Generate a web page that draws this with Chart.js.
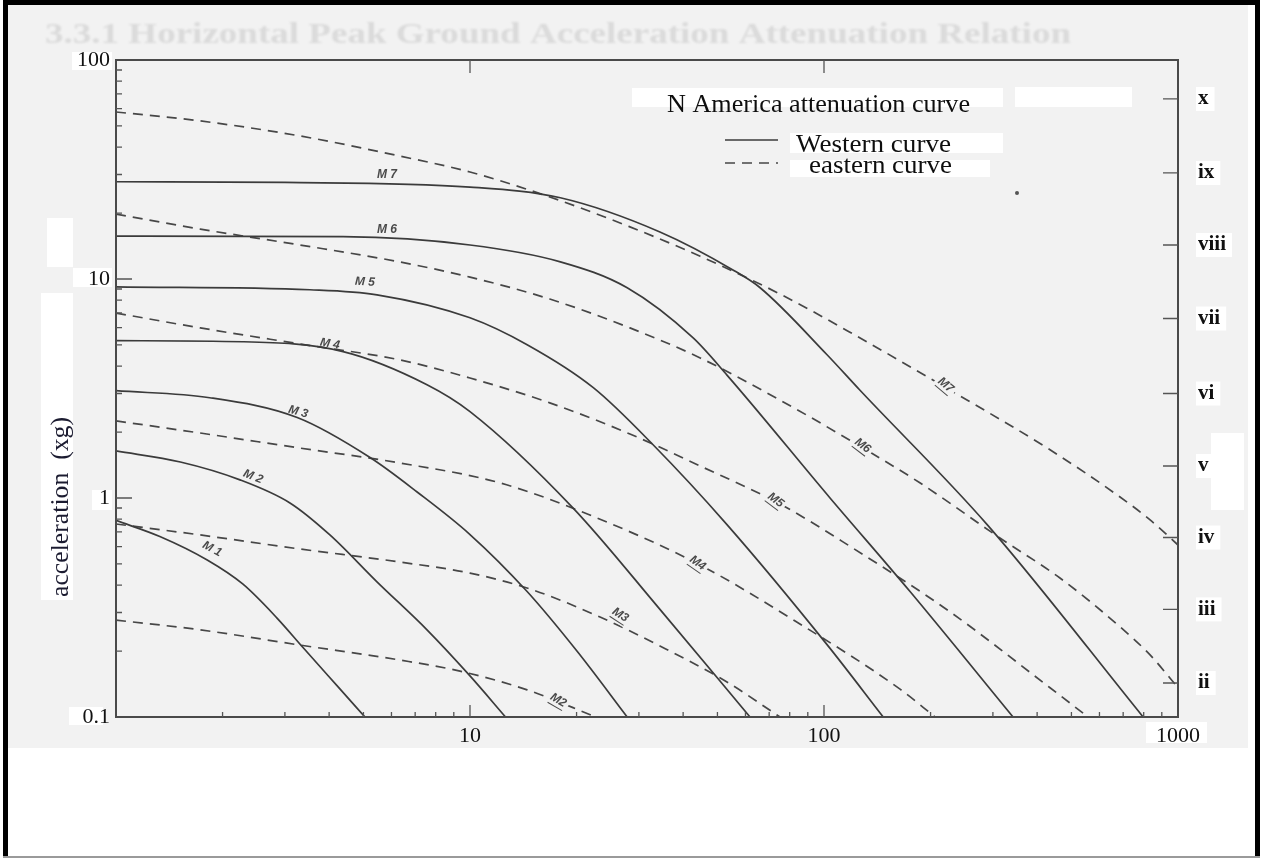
<!DOCTYPE html>
<html>
<head>
<meta charset="utf-8">
<title>N America attenuation curve</title>
<script src="https://cdn.jsdelivr.net/npm/chart.js@4.4.1/dist/chart.umd.min.js"></script>
<style>
  html, body { margin: 0; padding: 0; background: #ffffff; }
  canvas { display: block; }
</style>
</head>
<body>
<canvas id="chart" width="1262" height="859"></canvas>
<script>
// Peak ground acceleration (%g) against distance (km), one curve per magnitude.

// Western North America (solid curves)
const westM1Dist = [1, 1.33, 1.81, 2.28, 2.85, 3.38, 4.21, 5.05];
const westM1Acc  = [0.79, 0.667, 0.521, 0.405, 0.283, 0.207, 0.139, 0.1];
const westM2Dist = [1, 1.52, 2.24, 3.10, 4.02, 5.46, 7.56, 10, 12.6];
const westM2Acc  = [1.64, 1.46, 1.21, 0.949, 0.678, 0.414, 0.250, 0.154, 0.1];
const westM3Dist = [1, 1.84, 3.25, 5.22, 7.09, 10, 14.5, 20.1, 27.8];
const westM3Acc  = [3.09, 2.87, 2.33, 1.53, 1.065, 0.681, 0.374, 0.199, 0.1];
const westM4Dist = [1, 2.28, 4.38, 7.56, 10, 19.5, 34.4, 61.8];
const westM4Acc  = [5.23, 5.17, 4.66, 3.29, 2.48, 0.904, 0.31, 0.1];
const westM5Dist = [1, 3.53, 5.46, 10, 14.5, 22.3, 32.9, 53.2, 102, 147];
const westM5Acc  = [9.21, 8.93, 8.47, 6.65, 5.01, 3.19, 1.75, 0.756, 0.214, 0.1];
const westM6Dist = [1, 4.38, 10, 18, 27.8, 42.7, 53.2, 104, 175, 342];
const westM6Acc  = [15.7, 15.6, 14.3, 11.98, 9.12, 5.38, 3.64, 1.0, 0.374, 0.1];
const westM7Dist = [1, 3.0, 10, 18, 34.4, 55.3, 66, 102, 126, 289, 797];
const westM7Acc  = [27.8, 27.6, 26.3, 23.5, 16.4, 11.0, 9.12, 4.51, 3.12, 0.756, 0.1];

// Eastern North America (dashed curves)
const eastM2Dist = [1, 1.73, 3.31, 6.34, 9.37, 14.5, 22.7];
const eastM2Acc  = [0.277, 0.250, 0.213, 0.182, 0.162, 0.133, 0.1];
const eastM3Dist = [1, 1.73, 3.31, 6.34, 10, 14.8, 23.3, 34.4, 53.2, 75.1];
const eastM3Acc  = [0.761, 0.678, 0.585, 0.510, 0.454, 0.384, 0.286, 0.211, 0.1445, 0.1];
const eastM4Dist = [1, 1.73, 3.31, 6.34, 12.2, 23.3, 44.7, 85.5, 164, 206];
const eastM4Acc  = [2.25, 1.98, 1.69, 1.445, 1.17, 0.80, 0.494, 0.266, 0.134, 0.1];
const eastM5Dist = [1, 1.73, 3.31, 6.34, 10, 16.8, 28.3, 44.7, 75.1, 118, 227, 435, 557];
const eastM5Acc  = [6.99, 5.98, 5.05, 4.27, 3.53, 2.72, 1.96, 1.40, 0.939, 0.604, 0.302, 0.136, 0.1];
const eastM6Dist = [1, 1.73, 3.31, 6.34, 10, 16.8, 28.3, 44.7, 75.1, 118, 187, 314, 464, 686, 834, 1000];
const eastM6Acc  = [19.8, 16.9, 14.3, 11.96, 10.2, 8.10, 5.98, 4.36, 2.80, 1.84, 1.17, 0.657, 0.431, 0.258, 0.192, 0.136];
const eastM7Dist = [1, 1.73, 3.31, 6.34, 10, 16.8, 28.3, 44.7, 75.1, 118, 227, 435, 686, 834, 1000];
const eastM7Acc  = [57.9, 52.7, 45.0, 36.4, 30.8, 23.7, 17.3, 12.7, 8.54, 5.73, 3.11, 1.66, 1.01, 0.794, 0.61];

// Magnitude names and where each curve is tagged
const westNames = ['M 1', 'M 2', 'M 3', 'M 4', 'M 5', 'M 6', 'M 7'];
const westLabelDist = [1.87, 2.44, 3.27, 4.02, 5.05, 5.83, 5.83];
const westLabelAcc  = [0.585, 1.25, 2.47, 5.05, 9.7, 16.8, 29.8];
const eastNames = ['M2', 'M3', 'M4', 'M5', 'M6', 'M7'];
const eastLabelDist = [17.7, 26.5, 43.8, 72.7, 128, 219.8];
const eastLabelAcc  = [0.118, 0.29, 0.50, 0.97, 1.72, 3.25];

// Axis tick labels
const distTickLabels = ['10', '100', '1000'];
const accTickLabels = ['0.1', '1', '10', '100'];

// Modified Mercalli intensity marks on the right-hand axis
const mmiValues = [66.4, 30.5, 14.3, 6.6, 3.0, 1.4, 0.66, 0.31, 0.143];
const mmiLabels = ['x', 'ix', 'viii', 'vii', 'vi', 'v', 'iv', 'iii', 'ii'];

// ---------------------------------------------------------------------
const SERIF = "'Liberation Serif', 'Times New Roman', serif";
const PAPER = '#f2f2f2';
const INK = '#3b3b3b';

function pairs(xs, ys) { return xs.map((x, i) => ({ x: x, y: ys[i] })); }

const westSets = [
  [westM1Dist, westM1Acc], [westM2Dist, westM2Acc], [westM3Dist, westM3Acc],
  [westM4Dist, westM4Acc], [westM5Dist, westM5Acc], [westM6Dist, westM6Acc],
  [westM7Dist, westM7Acc]
];
const eastSets = [
  [eastM2Dist, eastM2Acc], [eastM3Dist, eastM3Acc], [eastM4Dist, eastM4Acc],
  [eastM5Dist, eastM5Acc], [eastM6Dist, eastM6Acc], [eastM7Dist, eastM7Acc]
];

const datasets = [];
westSets.forEach((s, i) => datasets.push({
  label: 'Western curve ' + westNames[i],
  data: pairs(s[0], s[1]),
  borderColor: INK, borderWidth: 1.7, pointRadius: 0,
  cubicInterpolationMode: 'monotone', fill: false
}));
eastSets.forEach((s, i) => datasets.push({
  label: 'eastern curve ' + eastNames[i],
  data: pairs(s[0], s[1]),
  borderColor: '#474747', borderWidth: 1.7, borderDash: [10, 7], pointRadius: 0,
  cubicInterpolationMode: 'monotone', fill: false
}));

function isDecade(v) {
  const l = Math.log10(v);
  return Math.abs(l - Math.round(l)) < 1e-6;
}

function fitText(ctx, text, x, y, w, font) {
  ctx.save();
  ctx.font = font;
  ctx.textAlign = 'left';
  ctx.textBaseline = 'alphabetic';
  const m = ctx.measureText(text).width;
  ctx.translate(x, y);
  ctx.scale(w / m, 1);
  ctx.fillText(text, 0, 0);
  ctx.restore();
}

// Paper, bleed-through heading and masking patches behind the labels
const paperPlugin = {
  id: 'paper',
  beforeDraw(chart) {
    const ctx = chart.ctx;
    ctx.save();
    ctx.fillStyle = '#ffffff';
    ctx.fillRect(0, 0, chart.width, chart.height);
    ctx.fillStyle = PAPER;
    ctx.fillRect(8, 5, 1240, 743);

    ctx.filter = 'blur(1.2px)';
    ctx.fillStyle = 'rgba(90,90,90,0.15)';
    fitText(ctx, '3.3.1 Horizontal Peak Ground Acceleration Attenuation Relation', 45, 43, 1026, 'bold 29px ' + SERIF);
    ctx.filter = 'none';

    ctx.fillStyle = '#ffffff';
    const patches = [
      [41, 293, 32, 307], [47, 218, 26, 49],
      [72, 52, 40, 18], [73, 268, 39, 19], [92, 490, 20, 20], [69, 707, 34, 18],
      [632, 88, 371, 19], [1015, 87, 117, 20],
      [790, 133, 213, 20], [790, 160, 200, 17],
      [1146, 722, 61, 21], [1211, 433, 33, 77]
    ];
    patches.forEach(p => ctx.fillRect(p[0], p[1], p[2], p[3]));

    const y2 = chart.scales.y2;
    ctx.font = 'bold 21px ' + SERIF;
    mmiValues.forEach((v, i) => {
      const py = y2.getPixelForValue(v);
      const w = ctx.measureText(mmiLabels[i]).width;
      ctx.fillRect(1196, py - 12, w + 8, 24);
    });
    ctx.restore();
  }
};

// Frame, inward tick marks, curve tags, legend and axis title
const overlayPlugin = {
  id: 'overlay',
  afterDatasetsDraw(chart) {
    const ctx = chart.ctx;
    const xs = chart.scales.x, ys = chart.scales.y, y2 = chart.scales.y2;
    const a = chart.chartArea;
    ctx.save();

    // frame
    ctx.strokeStyle = '#4a4a4a';
    ctx.lineWidth = 2;
    ctx.strokeRect(a.left, a.top, a.right - a.left, a.bottom - a.top);

    // inward ticks
    ctx.lineWidth = 1.3;
    ctx.strokeStyle = '#555555';
    ctx.beginPath();
    [0.1, 1, 10].forEach(d => {
      for (let k = 1; k <= 9; k++) {
        const v = k * d;
        if (v <= 0.1 + 1e-9) continue;
        const py = ys.getPixelForValue(v);
        ctx.moveTo(a.left, py);
        ctx.lineTo(a.left + (k === 1 ? 16 : 6), py);
      }
    });
    [1, 10, 100].forEach(d => {
      for (let k = 1; k <= 9; k++) {
        const v = k * d;
        if (v <= 1 + 1e-9) continue;
        const px = xs.getPixelForValue(v);
        ctx.moveTo(px, a.bottom);
        ctx.lineTo(px, a.bottom - (k === 1 ? 12 : 5));
      }
    });
    [10, 100].forEach(v => {
      const px = xs.getPixelForValue(v);
      ctx.moveTo(px, a.top);
      ctx.lineTo(px, a.top + 13);
    });
    mmiValues.forEach(v => {
      const py = y2.getPixelForValue(v);
      ctx.moveTo(a.right, py);
      ctx.lineTo(a.right - 15, py);
    });
    ctx.stroke();

    // magnitude tags on the curves
    const westAngles = [28, 22, 15, 10, 3, 0, 0];
    ctx.fillStyle = '#4a4a4a';
    ctx.font = 'italic bold 12px "Liberation Sans", sans-serif';
    ctx.textAlign = 'center';
    ctx.textBaseline = 'middle';
    westNames.forEach((n, i) => {
      const px = xs.getPixelForValue(westLabelDist[i]);
      const py = ys.getPixelForValue(westLabelAcc[i]);
      ctx.save();
      ctx.translate(px, py);
      ctx.rotate(westAngles[i] * Math.PI / 180);
      ctx.fillText(n, 0, 0);
      ctx.restore();
    });
    const eastAngles = [30, 33, 35, 37, 37, 40];
    eastNames.forEach((n, i) => {
      const px = xs.getPixelForValue(eastLabelDist[i]);
      const py = ys.getPixelForValue(eastLabelAcc[i]);
      ctx.save();
      ctx.translate(px, py);
      ctx.rotate(eastAngles[i] * Math.PI / 180);
      const w = ctx.measureText(n).width;
      ctx.fillStyle = PAPER;
      ctx.fillRect(-w / 2 - 3, -8, w + 6, 16);
      ctx.fillStyle = '#4a4a4a';
      ctx.fillText(n, 0, -1);
      ctx.strokeStyle = '#4a4a4a';
      ctx.lineWidth = 1;
      ctx.beginPath();
      ctx.moveTo(-w / 2, 6);
      ctx.lineTo(w / 2, 6);
      ctx.stroke();
      ctx.restore();
    });

    // legend
    ctx.fillStyle = '#0e0e0e';
    fitText(ctx, 'N America attenuation curve', 667, 112, 303, '26px ' + SERIF);
    const west = chart.data.datasets[0];
    const east = chart.data.datasets[westSets.length];
    ctx.lineWidth = west.borderWidth;
    ctx.strokeStyle = west.borderColor;
    ctx.setLineDash([]);
    ctx.beginPath(); ctx.moveTo(725, 140); ctx.lineTo(778, 140); ctx.stroke();
    ctx.strokeStyle = east.borderColor;
    ctx.setLineDash(east.borderDash);
    ctx.beginPath(); ctx.moveTo(725, 163); ctx.lineTo(778, 163); ctx.stroke();
    ctx.setLineDash([]);
    fitText(ctx, 'Western curve', 796, 152, 155, '26px ' + SERIF);
    fitText(ctx, 'eastern curve', 809, 173, 143, '26px ' + SERIF);

    // stray ink dot
    ctx.fillStyle = '#555555';
    ctx.beginPath(); ctx.arc(1017, 193, 2, 0, Math.PI * 2); ctx.fill();

    // vertical axis title
    ctx.save();
    ctx.translate(68, 597);
    ctx.rotate(-Math.PI / 2);
    ctx.fillStyle = '#1b1b30';
    fitText(ctx, 'acceleration  (xg)', 0, 0, 180, '25px ' + SERIF);
    ctx.restore();

    ctx.restore();
  },
  afterDraw(chart) {
    const ctx = chart.ctx;
    ctx.save();
    ctx.fillStyle = '#000000';
    ctx.fillRect(3, 0, 1257, 5);
    ctx.fillRect(3, 0, 5, 857);
    ctx.fillRect(1255, 0, 5, 857);
    ctx.fillStyle = '#9a9a9a';
    ctx.fillRect(3, 856, 1257, 2);
    ctx.restore();
  }
};

const tickFont = { family: SERIF, size: 22 };

new Chart(document.getElementById('chart'), {
  type: 'line',
  data: { datasets: datasets },
  plugins: [paperPlugin, overlayPlugin],
  options: {
    responsive: false,
    animation: false,
    devicePixelRatio: 1,
    layout: { padding: { top: 60, left: 0, right: 0, bottom: 0 } },
    plugins: { legend: { display: false }, tooltip: { enabled: false } },
    scales: {
      x: {
        type: 'logarithmic', min: 1, max: 1000,
        grid: { display: false, drawTicks: false }, border: { display: false },
        ticks: {
          autoSkip: false, maxRotation: 0, padding: 6, color: '#111111', font: tickFont,
          callback: v => {
            const s = String(Math.round(v));
            return isDecade(v) && distTickLabels.includes(s) ? s : '';
          }
        },
        afterFit: s => { s.height = 859 - 717; }
      },
      y: {
        type: 'logarithmic', position: 'left', min: 0.1, max: 100,
        grid: { display: false, drawTicks: false }, border: { display: false },
        ticks: {
          autoSkip: false, padding: 6, color: '#111111', font: tickFont,
          callback: v => {
            if (!isDecade(v)) return '';
            const s = v >= 1 ? String(Math.round(v)) : String(Math.round(v * 10) / 10);
            return accTickLabels.includes(s) ? s : '';
          }
        },
        afterFit: s => { s.width = 116; }
      },
      y2: {
        type: 'logarithmic', position: 'right', min: 0.1, max: 100,
        grid: { display: false, drawTicks: false }, border: { display: false },
        afterBuildTicks: s => { s.ticks = mmiValues.map(v => ({ value: v })); },
        ticks: {
          autoSkip: false, padding: 20, color: '#111111',
          font: { family: SERIF, size: 21, weight: 'bold' },
          callback: (v, i) => mmiLabels[i]
        },
        afterFit: s => { s.width = 1262 - 1178; }
      }
    }
  }
});
</script>
</body>
</html>
